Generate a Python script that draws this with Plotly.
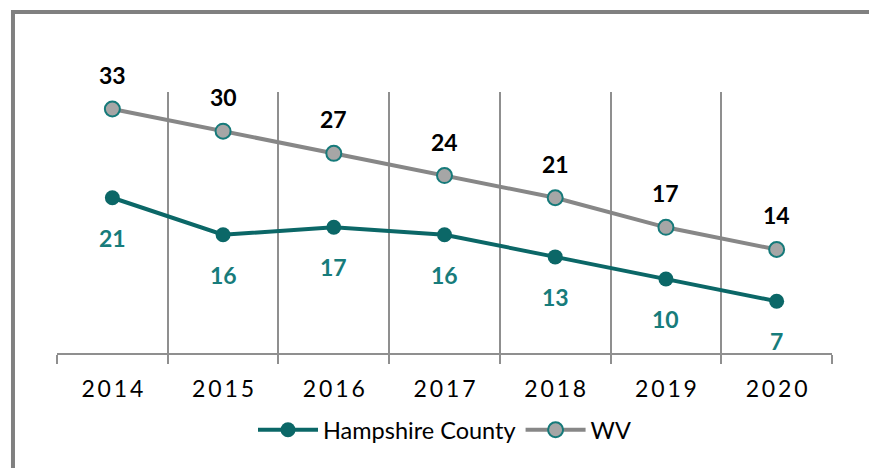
import plotly.graph_objects as go

years = ["2014", "2015", "2016", "2017", "2018", "2019", "2020"]
hampshire = [21, 16, 17, 16, 13, 10, 7]
wv = [33, 30, 27, 24, 21, 17, 14]

TEAL = "#0B6767"
TEAL_LABEL = "#177C7B"
GRAY_LINE = "#878787"
GRAY_MARK = "#A6A6A6"
GRID = "#8F8F8F"
FONT = "Lato"

# letter-spaced year labels (the reference tracks its tick text out)
spaced_years = ["\u2009".join(y) for y in years]

fig = go.Figure()
fig.add_trace(go.Scatter(
    x=years, y=hampshire, name="Hampshire County", mode="lines+markers",
    line=dict(color=TEAL, width=4),
    marker=dict(color=TEAL, size=15, line=dict(width=0)),
))
fig.add_trace(go.Scatter(
    x=years, y=wv, name="WV", mode="lines+markers",
    line=dict(color=GRAY_LINE, width=4),
    marker=dict(color=GRAY_MARK, size=15, line=dict(color="#167A7A", width=2)),
))

for i, v in enumerate(wv):
    fig.add_annotation(x=i, y=v, text=f"<b>{v}</b>", showarrow=False,
                       yanchor="middle", yshift=34,
                       font=dict(family=FONT, size=23, color="#000000"))
for i, v in enumerate(hampshire):
    fig.add_annotation(x=i, y=v, text=f"<b>{v}</b>", showarrow=False,
                       yanchor="middle", yshift=-40,
                       font=dict(family=FONT, size=23, color=TEAL_LABEL))

# outer frame
fig.add_shape(type="rect", xref="paper", yref="paper",
              x0=-0.0568, x1=1.0542, y0=-0.6, y1=1.3065,
              line=dict(color="#808080", width=4), fillcolor="rgba(0,0,0,0)",
              layer="below")

fig.update_layout(
    width=877, height=468,
    margin=dict(l=49, r=53, t=84, b=123),
    paper_bgcolor="white", plot_bgcolor="white",
    font=dict(family=FONT, size=20, color="#000000"),
    showlegend=True,
    legend=dict(orientation="h", x=0.5, xanchor="center", y=-0.295, yanchor="middle",
                font=dict(family=FONT, size=23.5, color="#000000"),
                itemwidth=60, traceorder="normal"),
    xaxis=dict(type="category", range=[-0.5, len(years) - 0.5],
               tickson="boundaries", showgrid=True,
               gridcolor=GRID, gridwidth=2, showline=True, linecolor=GRID,
               linewidth=2, ticks="outside", ticklen=9, tickcolor=GRID,
               tickwidth=2, tickangle=0,
               tickmode="array", tickvals=years, ticktext=spaced_years,
               tickfont=dict(family=FONT, size=23, color="#000000"),
               ticklabelstandoff=14, fixedrange=True),
    yaxis=dict(range=[0, 35.3], showgrid=False, zeroline=False, showline=False,
               showticklabels=False, ticks="", fixedrange=True),
)

fig.write_html("out.html")
